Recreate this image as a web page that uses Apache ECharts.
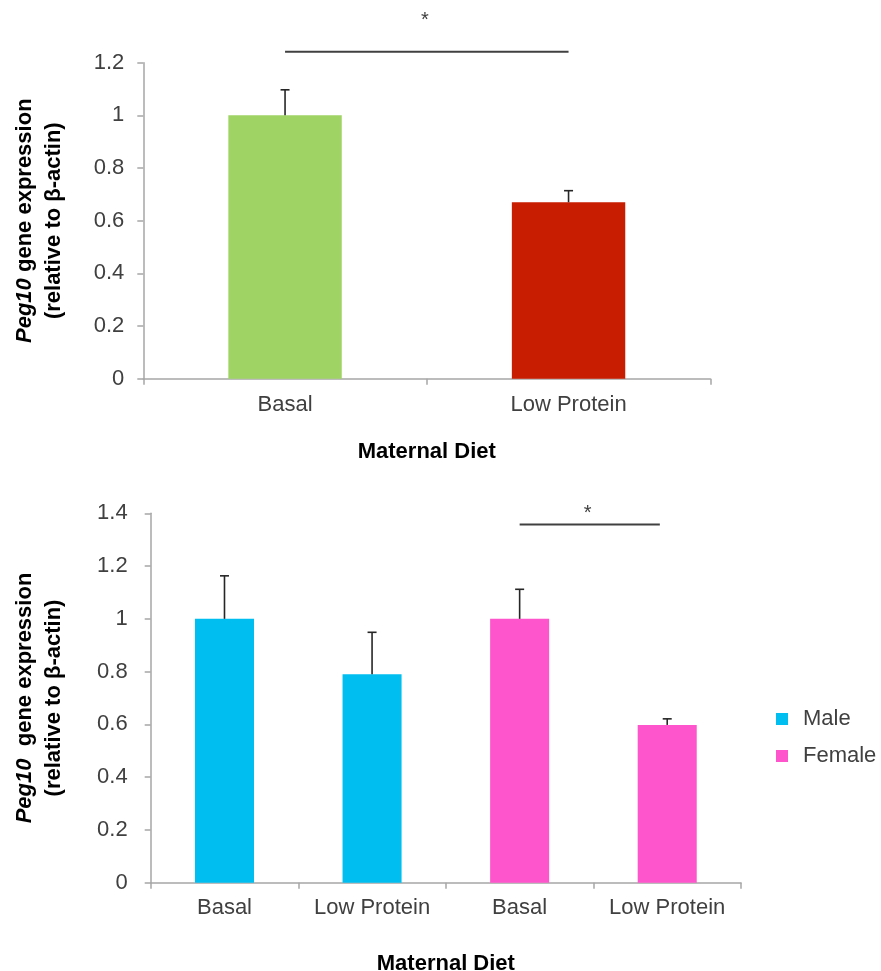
<!DOCTYPE html>
<html><head><meta charset="utf-8">
<script src="https://cdn.jsdelivr.net/npm/echarts@6/dist/echarts.min.js"></script>
<style>html,body{margin:0;padding:0;background:#fff}#c{width:881px;height:971px}</style>
</head><body><div id="c"></div>
<script>
// ---- data ----
const topCategories = ['Basal', 'Low Protein'];
const topValues = [1.0, 0.67];
const topErrorUpper = [1.097, 0.714];
const topColors = ['#9fd464', '#c81d00'];

const bottomCategories = ['Basal', 'Low Protein', 'Basal', 'Low Protein'];
const maleValues = [1.0, 0.79, null, null];
const maleErrorUpper = [1.163, 0.949, null, null];
const femaleValues = [null, null, 1.0, 0.598];
const femaleErrorUpper = [null, null, 1.112, 0.621];

// significance brackets: [fromCategory, toCategory, lineValue, starValue]
const topSig = [[0, 1, 1.242, 1.362]];
const bottomSig = [[2, 2.95, 1.358, 1.401]];

const FONT = "'Liberation Sans', Arial, sans-serif";
const AXIS_COLOR = '#a6a6a6';
const TEXT_COLOR = '#404040';

function coordAt(api, xv, yv) {
  const i0 = Math.floor(xv), f = xv - i0;
  const a = api.coord([i0, yv]);
  if (f === 0) return a;
  const b = api.coord([i0 + 1, yv]);
  return [a[0] + f * (b[0] - a[0]), a[1]];
}

function errorRender(params, api) {
  const x = api.value(0), lo = api.value(1), hi = api.value(2);
  const p0 = api.coord([x, lo]), p1 = api.coord([x, hi]);
  const half = 4.5;
  const st = { stroke: '#262626', lineWidth: 1.6 };
  return { type: 'group', children: [
    { type: 'line', shape: { x1: p0[0], y1: p0[1], x2: p1[0], y2: p1[1] }, style: st },
    { type: 'line', shape: { x1: p1[0] - half, y1: p1[1], x2: p1[0] + half, y2: p1[1] }, style: st }
  ]};
}

function sigRender(params, api) {
  const a = api.value(0), b = api.value(1), yl = api.value(2), ys = api.value(3);
  const p0 = coordAt(api, a, yl), p1 = coordAt(api, b, yl);
  const ps = coordAt(api, (a + b) / 2, ys);
  return { type: 'group', children: [
    { type: 'line', shape: { x1: p0[0], y1: p0[1], x2: p1[0], y2: p1[1] }, style: { stroke: '#404040', lineWidth: 2 } },
    { type: 'text', x: ps[0] - 2, y: ps[1], style: { text: '*', fill: '#404040', font: '20px ' + FONT, align: 'center', verticalAlign: 'middle' } }
  ]};
}

const yNameStyle = {
  fontFamily: FONT, fontSize: 22, fontWeight: 'bold', color: '#000', lineHeight: 29,
  rich: {
    i: { fontFamily: FONT, fontSize: 22, fontWeight: 'bold', fontStyle: 'italic', color: '#000', lineHeight: 29 },
    b: { fontFamily: FONT, fontSize: 22, fontWeight: 'bold', color: '#000', lineHeight: 29 }
  }
};
const yNameTop = '{i|Peg10}{b| gene expression}\n{b|(relative to β-actin)}';
const yNameBottom = '{i|Peg10}{b|  gene expression}\n{b|(relative to β-actin)}';

const chart = echarts.init(document.getElementById('c'), null, { renderer: 'canvas' });
chart.setOption({
  animation: false,
  backgroundColor: '#fff',
  textStyle: { fontFamily: FONT },
  legend: {
    data: ['Male', 'Female'],
    orient: 'vertical',
    left: 771, top: 703,
    icon: 'rect', itemWidth: 12, itemHeight: 12, itemGap: 15,
    textStyle: { fontFamily: FONT, fontSize: 22, color: TEXT_COLOR, lineHeight: 22, padding: [0, 0, 0, 10] }
  },
  grid: [
    { left: 143.3, top: 62.7, width: 567, height: 316, containLabel: false, outerBoundsMode: 'none' },
    { left: 150.7, top: 513.3, width: 590.3, height: 369.4, containLabel: false, outerBoundsMode: 'none' }
  ],
  xAxis: [
    {
      type: 'category', gridIndex: 0, data: topCategories,
      axisLine: { lineStyle: { color: AXIS_COLOR, width: 1.5 } },
      axisTick: { show: true, interval: 0, length: 6, lineStyle: { color: AXIS_COLOR, width: 1.5 } },
      axisLabel: { interval: 0, fontFamily: FONT, fontSize: 22, color: TEXT_COLOR, margin: 15 },
      name: 'Maternal Diet', nameLocation: 'middle', nameGap: 62,
      nameTextStyle: { fontFamily: FONT, fontSize: 22, fontWeight: 'bold', color: '#000' }
    },
    {
      type: 'category', gridIndex: 1, data: bottomCategories,
      axisLine: { lineStyle: { color: AXIS_COLOR, width: 1.5 } },
      axisTick: { show: true, interval: 0, length: 6, lineStyle: { color: AXIS_COLOR, width: 1.5 } },
      axisLabel: { interval: 0, fontFamily: FONT, fontSize: 22, color: TEXT_COLOR, margin: 14 },
      name: 'Maternal Diet', nameLocation: 'middle', nameGap: 70,
      nameTextStyle: { fontFamily: FONT, fontSize: 22, fontWeight: 'bold', color: '#000' }
    }
  ],
  yAxis: [
    {
      type: 'value', gridIndex: 0, min: 0, max: 1.2, interval: 0.2,
      splitLine: { show: false },
      axisLine: { show: true, lineStyle: { color: AXIS_COLOR, width: 1.5 } },
      axisTick: { show: true, length: 6, lineStyle: { color: AXIS_COLOR, width: 1.5 } },
      axisLabel: { fontFamily: FONT, fontSize: 22, color: TEXT_COLOR, margin: 19 },
      name: yNameTop, nameLocation: 'middle', nameRotate: 90, nameGap: 75,
      nameTextStyle: yNameStyle
    },
    {
      type: 'value', gridIndex: 1, min: 0, max: 1.4, interval: 0.2,
      splitLine: { show: false },
      axisLine: { show: true, lineStyle: { color: AXIS_COLOR, width: 1.5 } },
      axisTick: { show: true, length: 6, lineStyle: { color: AXIS_COLOR, width: 1.5 } },
      axisLabel: { fontFamily: FONT, fontSize: 22, color: TEXT_COLOR, margin: 23 },
      name: yNameBottom, nameLocation: 'middle', nameRotate: 90, nameGap: 82,
      nameTextStyle: yNameStyle
    }
  ],
  series: [
    {
      name: 'Top', type: 'bar', xAxisIndex: 0, yAxisIndex: 0, barWidth: '40%',
      data: topValues.map((v, i) => ({ value: v, itemStyle: { color: topColors[i] } }))
    },
    {
      name: 'TopErr', type: 'custom', xAxisIndex: 0, yAxisIndex: 0, z: 5,
      renderItem: errorRender,
      encode: { x: 0, y: [1, 2] },
      data: topValues.map((v, i) => [i, v, topErrorUpper[i]])
    },
    {
      name: 'TopSig', type: 'custom', xAxisIndex: 0, yAxisIndex: 0, z: 5, clip: false,
      renderItem: sigRender, encode: { x: [0, 1], y: [2, 3] },
      data: topSig
    },
    {
      name: 'Male', type: 'bar', xAxisIndex: 1, yAxisIndex: 1, barWidth: '40%', barGap: '-100%',
      itemStyle: { color: '#00bef0' },
      data: maleValues.map(v => v === null ? '-' : v)
    },
    {
      name: 'Female', type: 'bar', xAxisIndex: 1, yAxisIndex: 1, barWidth: '40%', barGap: '-100%',
      itemStyle: { color: '#ff55cc' },
      data: femaleValues.map(v => v === null ? '-' : v)
    },
    {
      name: 'BottomErr', type: 'custom', xAxisIndex: 1, yAxisIndex: 1, z: 5,
      renderItem: errorRender, encode: { x: 0, y: [1, 2] },
      data: bottomCategories.map((c, i) => maleValues[i] !== null ? [i, maleValues[i], maleErrorUpper[i]] : [i, femaleValues[i], femaleErrorUpper[i]])
    },
    {
      name: 'BottomSig', type: 'custom', xAxisIndex: 1, yAxisIndex: 1, z: 5, clip: false,
      renderItem: sigRender, encode: { x: [0, 1], y: [2, 3] },
      data: bottomSig
    }
  ]
});
</script>
</body></html>
